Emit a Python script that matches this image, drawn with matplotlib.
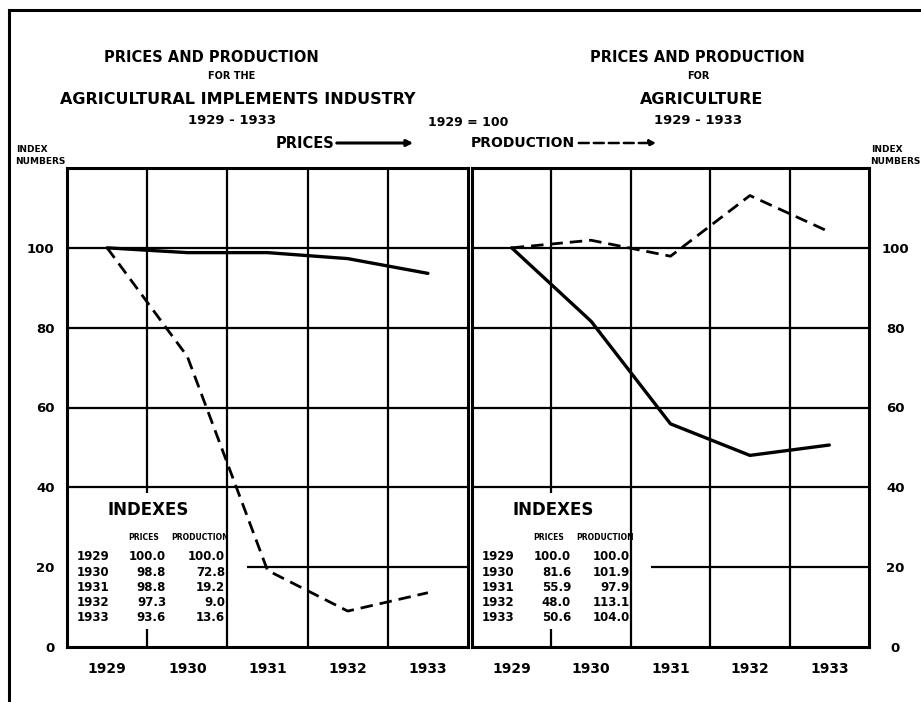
import matplotlib
matplotlib.use('Agg')
import matplotlib.pyplot as plt
from matplotlib.lines import Line2D

# data (index numbers, 1929 = 100)
years = ['1929', '1930', '1931', '1932', '1933']
impl_prices = [100.0, 98.8, 98.8, 97.3, 93.6]
impl_production = [100.0, 72.8, 19.2, 9.0, 13.6]
agri_prices = [100.0, 81.6, 55.9, 48.0, 50.6]
agri_production = [100.0, 101.9, 97.9, 113.1, 104.0]
y_ticks = [0, 20, 40, 60, 80, 100]

W, H = 921, 702
plt.rcParams['font.family'] = 'DejaVu Sans'
plt.rcParams['font.weight'] = 'bold'

fig = plt.figure(figsize=(W / 100, H / 100), dpi=100)


def fx(px):
    return px / W


def fy(py):
    return 1 - py / H


def txt(x, y, s, size, ha='center', weight='bold', **kw):
    fig.text(fx(x), fy(y), s, fontsize=size, ha=ha, va='center',
             fontweight=weight, **kw)


def panel(left_px, right_px, prices, production, right_side=False):
    ax = fig.add_axes([fx(left_px), fy(647), (right_px - left_px) / W, (647 - 168) / H])
    ax.set_xlim(-0.5, 4.5)
    ax.set_ylim(0, 120)
    for s in ax.spines.values():
        s.set_linewidth(2.2)

    # grid, with the gaps left by the little table
    ax.vlines([0.5, 0.5], [0, 38.5], [4.5, 120], color='black', lw=1.6)
    ax.vlines([1.5, 2.5, 3.5], 0, 120, color='black', lw=1.6)
    ax.hlines([40, 60, 80, 100], -0.5, 4.5, color='black', lw=1.6)
    ax.hlines(20, 1.75, 4.5, color='black', lw=1.6)

    x = range(len(years))
    ax.plot(x, prices, color='black', lw=2.4, solid_capstyle='round', zorder=3)
    ax.plot(x, production, color='black', lw=2.0, dashes=(4.5, 2.5), zorder=3)

    ax.set_xticks(list(x))
    ax.set_xticklabels(years, fontsize=10, fontweight='bold')
    ax.set_yticks(y_ticks)
    ax.set_yticklabels([str(v) for v in y_ticks], fontsize=9.5, fontweight='bold')
    ax.tick_params(axis='x', length=0, pad=11)
    if right_side:
        ax.yaxis.tick_right()
        ax.tick_params(axis='y', length=0, pad=19)
        for lbl in ax.get_yticklabels():
            lbl.set_ha('center')
    else:
        ax.tick_params(axis='y', length=0, pad=9)

    # table of indexes
    txt(left_px + 81, 510, 'INDEXES', 12)
    txt(left_px + 77, 537, 'PRICES', 5.5)
    txt(left_px + 133, 537, 'PRODUCTION', 5.5)
    for i, yr in enumerate(years):
        ty = 557 + i * 15.2
        txt(left_px + 10, ty, yr, 8.5, ha='left')
        txt(left_px + 99, ty, f'{prices[i]:.1f}', 8.5, ha='right')
        txt(left_px + 158, ty, f'{production[i]:.1f}', 8.5, ha='right')
    return ax


panel(67, 468, impl_prices, impl_production)
panel(472, 869, agri_prices, agri_production, right_side=True)

# titles
txt(211, 58, 'PRICES AND PRODUCTION', 10.5)
txt(232, 76, 'FOR THE', 7)
txt(238, 100, 'AGRICULTURAL IMPLEMENTS INDUSTRY', 11.5)
txt(232, 120, '1929 - 1933', 9.5)
txt(697, 58, 'PRICES AND PRODUCTION', 10.5)
txt(698, 76, 'FOR', 7)
txt(702, 100, 'AGRICULTURE', 11.5)
txt(698, 120, '1929 - 1933', 9.5)
txt(468, 123, '1929 = 100', 9)

# axis captions
txt(32, 149, 'INDEX', 6.5)
txt(40, 161, 'NUMBERS', 6.5)
txt(887, 149, 'INDEX', 6.5)
txt(895, 161, 'NUMBERS', 6.5)

# key
txt(334, 143, 'PRICES', 10.5, ha='right')
fig.add_artist(matplotlib.patches.FancyArrowPatch(
    (fx(334), fy(143)), (fx(416), fy(143)), transform=fig.transFigure,
    arrowstyle='-|>', mutation_scale=9, lw=2.2, color='black'))
txt(575, 143, 'PRODUCTION', 10, ha='right')
fig.add_artist(matplotlib.patches.FancyArrowPatch(
    (fx(576), fy(143)), (fx(659), fy(143)), transform=fig.transFigure,
    arrowstyle='-|>', mutation_scale=9, lw=1.8, color='black',
    linestyle=(0, (4, 2))))

# outer frame of the page
fig.add_artist(Line2D([fx(9), 1], [fy(10), fy(10)], color='black', lw=2.2))
fig.add_artist(Line2D([fx(9), fx(9)], [fy(10), 0], color='black', lw=2.2))

fig.savefig('out.png', dpi=100)
